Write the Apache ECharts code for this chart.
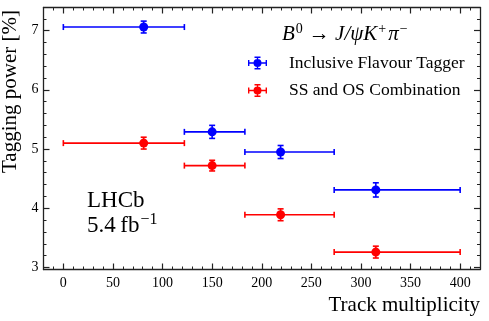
<!DOCTYPE html>
<html>
<head>
<meta charset="utf-8">
<script src="https://cdn.jsdelivr.net/npm/echarts@6/dist/echarts.min.js"></script>
<style>
  html, body { margin: 0; padding: 0; background: #fff; }
  #chart { width: 489px; height: 321px; }
</style>
</head>
<body>
<div id="chart"></div>
<script>
// track multiplicity bins
const binLow = [0, 122, 183, 273]
const binHigh = [122, 183, 273, 400]
const binCenter = [81, 150, 219, 315]

// tagging power [%]
const iftPower = [7.06, 5.29, 4.95, 4.31]
const iftErr = [0.1, 0.11, 0.11, 0.12]
const ssosPower = [5.1, 4.72, 3.89, 3.26]
const ssosErr = [0.1, 0.09, 0.1, 0.1]

// tick labels
const xTicks = [0, 50, 100, 150, 200, 250, 300, 350, 400]
const yTicks = [3, 4, 5, 6, 7]

const font = 'Liberation Serif'
const xMinor = []
for (let v = -20; v <= 420; v += 10) if (v % 50 !== 0) xMinor.push(v)
const yMinor = []
for (let i = 15; i <= 36; i++) if (i % 5 !== 0) yMinor.push(i / 5)

function toRows(power, err) {
  return binCenter.map((c, i) => [c, power[i], binLow[i], binHigh[i], err[i]])
}

function renderErrorPoint(params, api) {
  const y = api.value(1)
  const ye = api.value(4)
  const p = api.coord([api.value(0), y])
  const l = api.coord([api.value(2), y])
  const r = api.coord([api.value(3), y])
  const t = api.coord([api.value(0), y + ye])
  const b = api.coord([api.value(0), y - ye])
  const color = api.visual('color')
  const style = { stroke: color, lineWidth: 1.6 }
  const cap = 3
  const line = (x1, y1, x2, y2) => ({ type: 'line', shape: { x1, y1, x2, y2 }, style })
  return {
    type: 'group',
    children: [
      line(l[0], l[1], r[0], r[1]),
      line(l[0], l[1] - cap, l[0], l[1] + cap),
      line(r[0], r[1] - cap, r[0], r[1] + cap),
      line(t[0], t[1], b[0], b[1]),
      line(t[0] - cap, t[1], t[0] + cap, t[1]),
      line(b[0] - cap, b[1], b[0] + cap, b[1]),
      { type: 'circle', shape: { cx: p[0], cy: p[1], r: 4.5 }, style: { fill: color } }
    ]
  }
}

// legend marker: point with x and y error bars
const markerIcon = 'path://M0,5.8h19v1.4h-19z M0,3.5h1.4v6h-1.4z M17.6,3.5h1.4v6h-1.4z ' +
  'M8.8,0h1.4v13h-1.4z M6.5,0h6v1.4h-6z M6.5,11.6h6v1.4h-6z ' +
  'M5.5,6.5a4,4 0 1,1 8,0a4,4 0 1,1 -8,0z'

const axisColor = '#222'
const tickOnly = (extra) => Object.assign({
  type: 'value',
  axisLine: { show: false, onZero: false },
  axisLabel: { show: false },
  splitLine: { show: false }
}, extra)

const chart = echarts.init(document.getElementById('chart'))
chart.setOption({
  animation: false,
  backgroundColor: '#fff',
  textStyle: { fontFamily: font },
  title: [
    {
      left: 282,
      top: 22,
      padding: 0,
      text: '{i|B}{s|0}{n|→} {i|J/ψK}{s|+}{i|π}{s|−}',
      textStyle: {
        fontFamily: font,
        fontSize: 21,
        fontWeight: 'normal',
        color: '#000',
        rich: {
          i: { fontFamily: font, fontStyle: 'italic', fontWeight: 'normal', fontSize: 21, color: '#000' },
          n: { fontFamily: font, fontWeight: 'normal', fontSize: 21, color: '#000', padding: [0, 0, 0, 4] },
          s: { fontFamily: font, fontWeight: 'normal', fontSize: 14, color: '#000', verticalAlign: 'bottom', padding: [0, 2, 10, 1] }
        }
      }
    },
    {
      left: 87,
      top: 188,
      padding: 0,
      text: 'LHCb\n5.4\u2009fb{s|−1}',
      textStyle: {
        fontFamily: font,
        fontSize: 23,
        fontWeight: 'normal',
        lineHeight: 25,
        color: '#000',
        rich: {
          s: { fontFamily: font, fontWeight: 'normal', fontSize: 16, color: '#000', verticalAlign: 'bottom', padding: [0, 0, 10, 1] }
        }
      }
    }
  ],
  legend: {
    left: 248,
    top: 54,
    padding: 0,
    orient: 'vertical',
    itemWidth: 19,
    itemHeight: 13,
    itemGap: 9.5,
    textStyle: { fontFamily: font, fontSize: 17.5, color: '#000', padding: [0, 0, 0, 17] },
    data: [
      { name: 'Inclusive Flavour Tagger', icon: markerIcon },
      { name: 'SS and OS Combination', icon: markerIcon }
    ]
  },
  grid: { left: 43.5, right: 9, top: 7.5, bottom: 51.5, outerBoundsMode: 'none' },
  xAxis: [
    {
      type: 'value',
      min: -20,
      max: 420,
      position: 'bottom',
      name: 'Track multiplicity',
      nameLocation: 'middle',
      nameGap: 18,
      nameTextStyle: { fontFamily: font, fontSize: 21, color: '#000', padding: [0, 0, 0, 285] },
      axisLine: { onZero: false, lineStyle: { color: axisColor, width: 1.3 } },
      axisTick: { inside: true, length: 6, customValues: xTicks, lineStyle: { color: axisColor, width: 1.2 } },
      axisLabel: { customValues: xTicks, margin: 7, fontFamily: font, fontSize: 14, color: '#000' },
      splitLine: { show: false }
    },
    tickOnly({ min: -20, max: 420, position: 'bottom', axisTick: { inside: true, length: 3, customValues: xMinor, lineStyle: { color: axisColor, width: 1 } } }),
    tickOnly({ min: -20, max: 420, position: 'top', axisLine: { show: true, onZero: false, lineStyle: { color: axisColor, width: 1.3 } }, axisTick: { inside: true, length: 6, customValues: xTicks, lineStyle: { color: axisColor, width: 1.2 } } }),
    tickOnly({ min: -20, max: 420, position: 'top', axisTick: { inside: true, length: 3, customValues: xMinor, lineStyle: { color: axisColor, width: 1 } } })
  ],
  yAxis: [
    {
      type: 'value',
      min: 2.966,
      max: 7.39,
      position: 'left',
      name: 'Tagging power [%]',
      nameLocation: 'middle',
      nameGap: 16,
      nameRotate: 90,
      nameTextStyle: { fontFamily: font, fontSize: 21, color: '#000', padding: [0, 0, 0, 94] },
      axisLine: { onZero: false, lineStyle: { color: axisColor, width: 1.3 } },
      axisTick: { inside: true, length: 6, customValues: yTicks, lineStyle: { color: axisColor, width: 1.2 } },
      axisLabel: { customValues: yTicks, margin: 5, fontFamily: font, fontSize: 14, color: '#000' },
      splitLine: { show: false }
    },
    tickOnly({ min: 2.966, max: 7.39, position: 'left', axisTick: { inside: true, length: 3, customValues: yMinor, lineStyle: { color: axisColor, width: 1 } } }),
    tickOnly({ min: 2.966, max: 7.39, position: 'right', axisLine: { show: true, onZero: false, lineStyle: { color: axisColor, width: 1.3 } }, axisTick: { inside: true, length: 6, customValues: yTicks, lineStyle: { color: axisColor, width: 1.2 } } }),
    tickOnly({ min: 2.966, max: 7.39, position: 'right', axisTick: { inside: true, length: 3, customValues: yMinor, lineStyle: { color: axisColor, width: 1 } } })
  ],
  series: [
    {
      name: 'Inclusive Flavour Tagger',
      type: 'custom',
      renderItem: renderErrorPoint,
      itemStyle: { color: '#0000ff' },
      encode: { x: 0, y: 1 },
      data: toRows(iftPower, iftErr)
    },
    {
      name: 'SS and OS Combination',
      type: 'custom',
      renderItem: renderErrorPoint,
      itemStyle: { color: '#ff0000' },
      encode: { x: 0, y: 1 },
      data: toRows(ssosPower, ssosErr)
    }
  ]
})
</script>
</body>
</html>
